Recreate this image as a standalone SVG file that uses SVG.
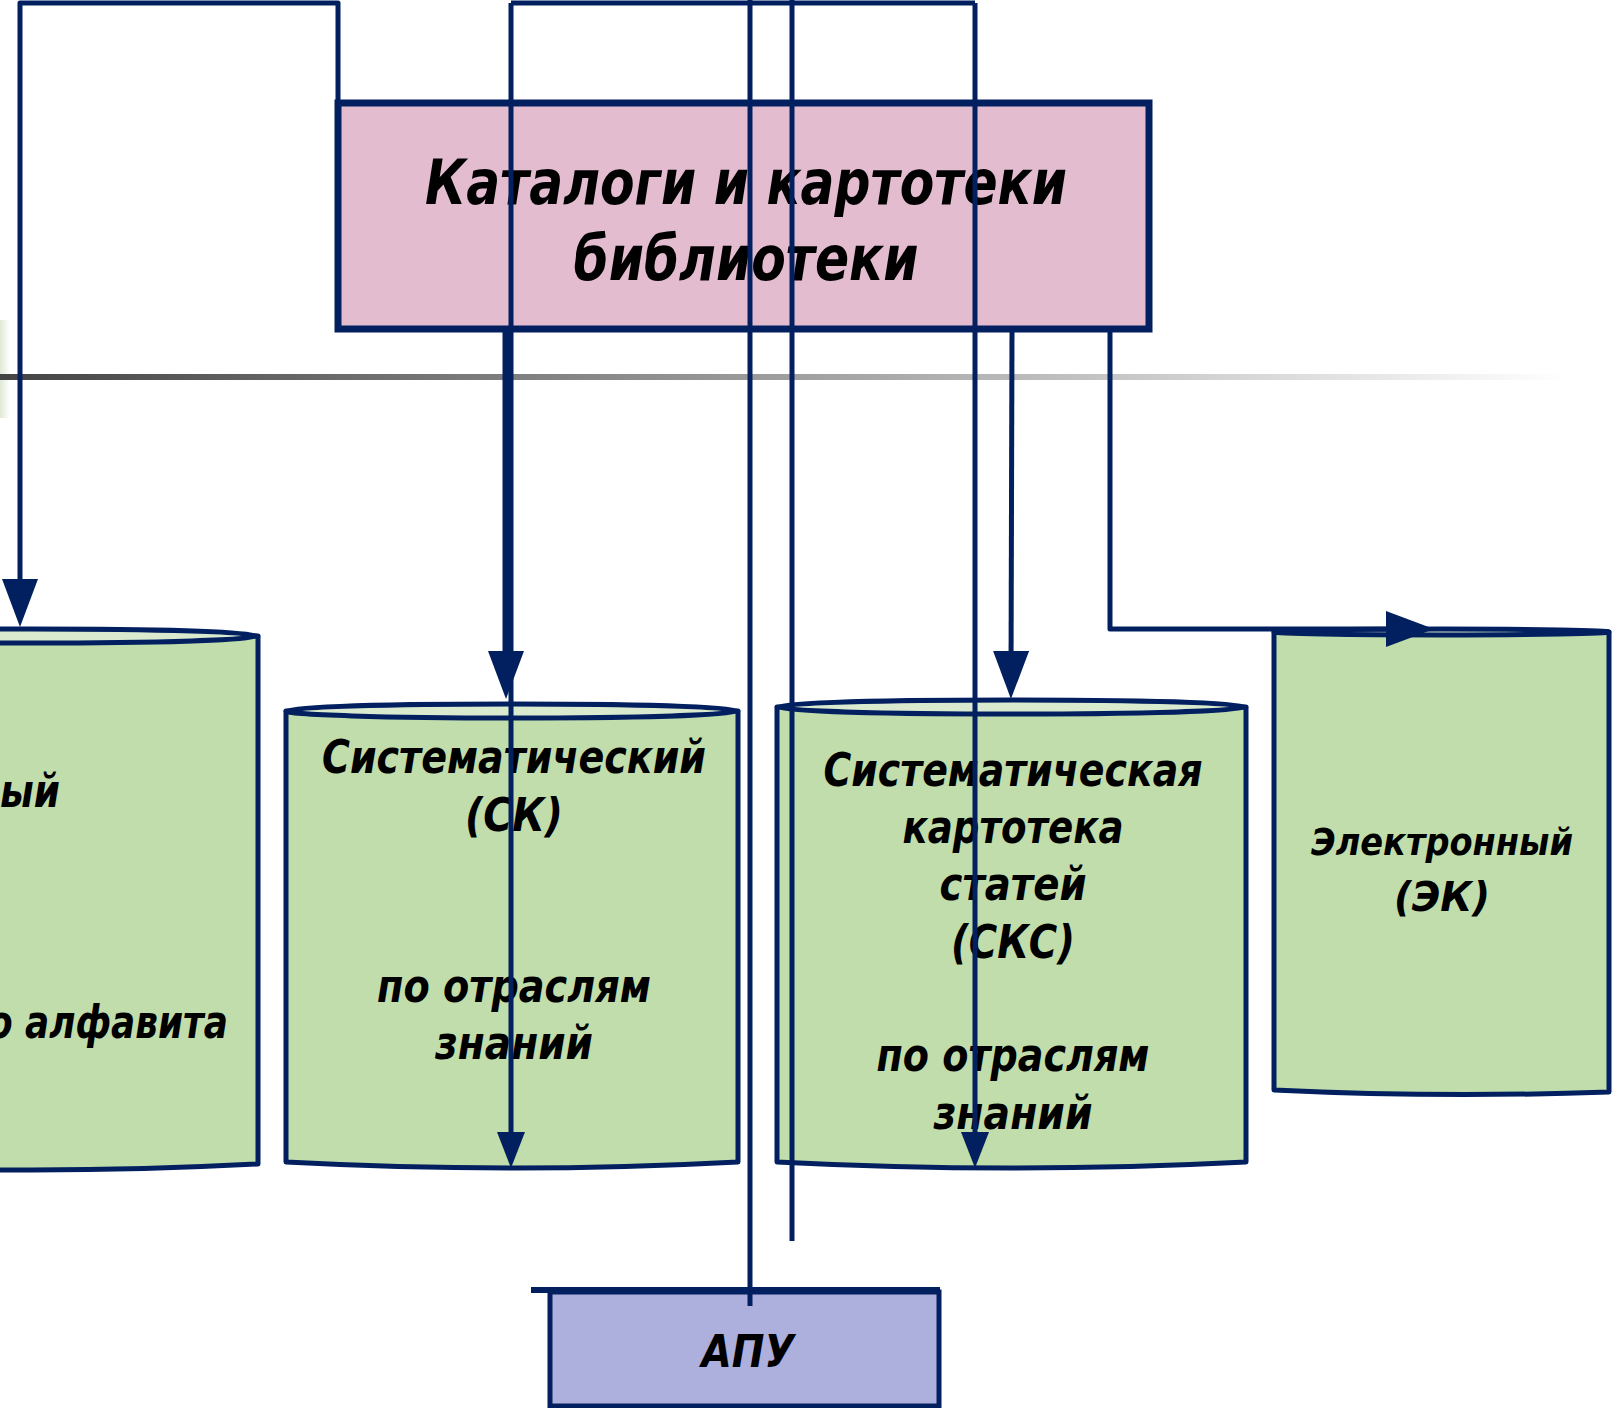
<svg xmlns="http://www.w3.org/2000/svg" width="1612" height="1408" viewBox="0 0 1612 1408">
<defs>
<style>
.ln{fill:none;stroke:#022060;stroke-width:5;stroke-linejoin:round}
.cyl{fill:#C1DDAB;stroke:#022060;stroke-width:5;stroke-linejoin:round}
.cap{fill:#DAEACF;stroke:#022060;stroke-width:5}
.t{font-family:"DejaVu Sans","Liberation Sans",sans-serif;font-weight:bold;font-style:italic;fill:#000;text-anchor:middle}
.te{text-anchor:end}
</style>
<linearGradient id="gl" x1="0" y1="0" x2="1" y2="0">
<stop offset="0" stop-color="#444"/>
<stop offset="0.6" stop-color="#b0b0b0"/>
<stop offset="1" stop-color="#fff"/>
</linearGradient>
<linearGradient id="gg" x1="0" y1="0" x2="1" y2="0">
<stop offset="0" stop-color="#dfead6"/>
<stop offset="1" stop-color="#fff"/>
</linearGradient>
<marker id="ahL" viewBox="0 0 48 36" refX="28" refY="18" markerWidth="48" markerHeight="36" markerUnits="userSpaceOnUse" orient="auto">
<path d="M0,0 L48,18 L0,36 Z" fill="#022060"/>
</marker>
<marker id="ahS" viewBox="0 0 36 28" refX="20" refY="14" markerWidth="36" markerHeight="28" markerUnits="userSpaceOnUse" orient="auto">
<path d="M0,0 L36,14 L0,28 Z" fill="#022060"/>
</marker>
</defs>
<rect width="1612" height="1408" fill="#fff"/>
<rect x="0" y="320" width="10" height="98" fill="url(#gg)"/>
<rect x="0" y="374" width="1565" height="6" fill="url(#gl)"/>

<g id="node-alpha">
<path class="cyl" d="M-194,636 L-194,1164 Q32,1176 258,1164 L258,636 Z"/>
<ellipse class="cap" cx="32" cy="636" rx="226" ry="7"/>
<text class="t te" x="60" y="807" font-size="46" textLength="60" lengthAdjust="spacingAndGlyphs">ый</text>
<text class="t te" x="228" y="1038" font-size="46" textLength="240" lengthAdjust="spacingAndGlyphs">о алфавита</text>
</g>

<g id="node-sk">
<path class="cyl" d="M286,711 L286,1162 Q512,1174 738,1162 L738,711 Z"/>
<ellipse class="cap" cx="512" cy="711" rx="226" ry="7"/>
<text class="t" x="514" y="773" font-size="46" textLength="384" lengthAdjust="spacingAndGlyphs">Систематический</text>
<text class="t" x="514" y="831" font-size="46" textLength="98" lengthAdjust="spacingAndGlyphs">(СК)</text>
<text class="t" x="514" y="1002" font-size="46" textLength="274" lengthAdjust="spacingAndGlyphs">по отраслям</text>
<text class="t" x="514" y="1059" font-size="46" textLength="158" lengthAdjust="spacingAndGlyphs">знаний</text>
</g>

<g id="node-sks">
<path class="cyl" d="M777,707 L777,1162 Q1011,1174 1246,1162 L1246,707 Z"/>
<ellipse class="cap" cx="1011.5" cy="707" rx="234.5" ry="7"/>
<text class="t" x="1013" y="786" font-size="46" textLength="379" lengthAdjust="spacingAndGlyphs">Систематическая</text>
<text class="t" x="1013" y="843" font-size="46" textLength="221" lengthAdjust="spacingAndGlyphs">картотека</text>
<text class="t" x="1013" y="900" font-size="46" textLength="147" lengthAdjust="spacingAndGlyphs">статей</text>
<text class="t" x="1013" y="958" font-size="46" textLength="124" lengthAdjust="spacingAndGlyphs">(СКС)</text>
<text class="t" x="1013" y="1071" font-size="46" textLength="273" lengthAdjust="spacingAndGlyphs">по отраслям</text>
<text class="t" x="1013" y="1129" font-size="46" textLength="159" lengthAdjust="spacingAndGlyphs">знаний</text>
</g>

<g id="node-ek">
<path class="cyl" d="M1274,632 L1274,1090 Q1441,1098 1609,1092 L1609,632 Z"/>
<ellipse class="cap" cx="1441.5" cy="632" rx="167.5" ry="3"/>
<text class="t" x="1442" y="855" font-size="38" textLength="262" lengthAdjust="spacingAndGlyphs">Электронный</text>
<text class="t" x="1442" y="911" font-size="40" textLength="96" lengthAdjust="spacingAndGlyphs">(ЭК)</text>
</g>

<g id="node-apu">
<rect x="550" y="1292" width="389" height="114" fill="#ADAFDD" stroke="#022060" stroke-width="5"/>
<path d="M531,1290 L940,1290" stroke="#022060" stroke-width="6" fill="none"/>
<text class="t" x="748" y="1367" font-size="44" textLength="93" lengthAdjust="spacingAndGlyphs">АПУ</text>
</g>

<g id="node-main">
<rect x="338" y="103" width="811" height="226" fill="#E3BCD0" stroke="#022060" stroke-width="7"/>
<text class="t" x="746" y="204" font-size="62" textLength="642" lengthAdjust="spacingAndGlyphs">Каталоги и картотеки</text>
<text class="t" x="746" y="280" font-size="62" textLength="345" lengthAdjust="spacingAndGlyphs">библиотеки</text>
</g>

<g id="connectors">
<path class="ln" d="M338,303 L338,3 L20,3 L20,607" marker-end="url(#ahL)"/>
<path class="ln" d="M511,3 L975,3"/>
<path class="ln" d="M511,3 L511,1152" marker-end="url(#ahS)"/>
<path class="ln" d="M975,3 L975,1152" marker-end="url(#ahS)"/>
<path class="ln" d="M750,0 L750,1306"/>
<path class="ln" d="M792,0 L792,1241"/>
<path class="ln" d="M506,329 L506,679" style="stroke-width:7" marker-end="url(#ahL)"/>
<path class="ln" d="M1012,329 L1011,679" marker-end="url(#ahL)"/>
<path class="ln" d="M1110,329 L1110,629 L1414,629" marker-end="url(#ahL)"/>
</g>
</svg>
